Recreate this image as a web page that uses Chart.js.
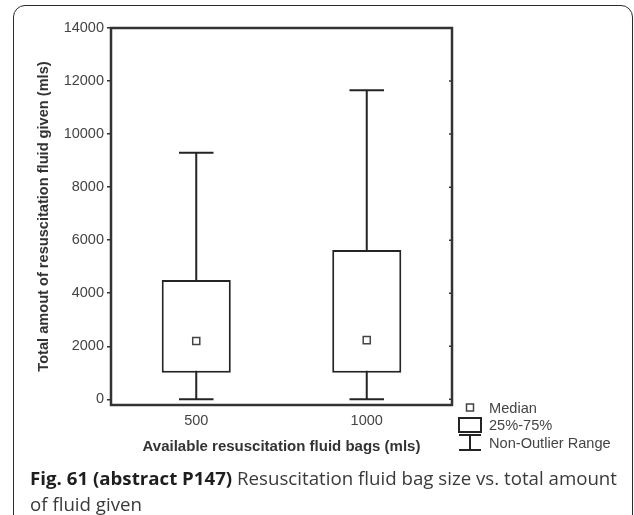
<!DOCTYPE html>
<html><head><meta charset="utf-8">
<script src="https://cdn.jsdelivr.net/npm/chart.js@4/dist/chart.umd.min.js"></script>
<style>
html,body{margin:0;padding:0;background:#fff;}
#wrap{position:relative;width:634px;height:515px;overflow:hidden;}
#c{position:absolute;left:0;top:0;}
#frame{position:absolute;left:13px;top:5px;width:620px;height:540px;border:1.5px solid #2a2a2a;border-radius:12px;box-sizing:border-box;pointer-events:none;}
.cap{position:absolute;left:30px;font-family:"Open Sans";font-size:18px;line-height:24px;color:#3a3a3a;white-space:nowrap;transform-origin:0 0;}
.cap b{color:#1e1e1e;font-weight:700;}
</style></head><body>
<div id="wrap">
<canvas id="c" width="634" height="515"></canvas>
<div id="frame"></div>
<div class="cap" id="cap1" style="top:466px"><b>Fig. 61 (abstract P147)</b> Resuscitation fluid bag size vs. total amount</div>
<div class="cap" id="cap2" style="top:492px">of fluid given</div>
</div>
<script>
// ---- data ----
const categories = ['500', '1000'];
const q1 = [1000, 1000];
const q3 = [4500, 5630];
const medians = [2200, 2230];
const whiskerLow = [0, 0];
const whiskerHigh = [9300, 11650];
const yTicks = [0, 2000, 4000, 6000, 8000, 10000, 12000, 14000];
const legendLabels = ['Median', '25%-75%', 'Non-Outlier Range'];

// ---- caption fit ----
(function(){
  const c1 = document.getElementById('cap1'), c2 = document.getElementById('cap2');
  const w = c1.getBoundingClientRect().width;
  const s = (617 - 30) / w;
  c1.style.transform = 'scaleX(' + s + ')';
  c2.style.transform = 'scaleX(' + s + ')';
})();

const LINE = '#242424';
const BOX_DS = 1;

const whiskerPlugin = {
  id: 'whiskers',
  beforeDatasetsDraw(chart) {
    const ctx = chart.ctx, x = chart.scales.x, y = chart.scales.y;
    const meta = chart.getDatasetMeta(BOX_DS);
    ctx.save();
    ctx.strokeStyle = LINE; ctx.lineWidth = 2;
    categories.forEach((c, i) => {
      const cx = x.getPixelForValue(i);
      const half = meta.data[i].width / 4;
      const yl = y.getPixelForValue(whiskerLow[i]);
      const yh = y.getPixelForValue(whiskerHigh[i]);
      ctx.beginPath();
      ctx.moveTo(cx, yl); ctx.lineTo(cx, yh);
      ctx.moveTo(cx - half, yl); ctx.lineTo(cx + half, yl);
      ctx.moveTo(cx - half, yh); ctx.lineTo(cx + half, yh);
      ctx.stroke();
    });
    ctx.restore();
  }
};

const framePlugin = {
  id: 'frame',
  afterDraw(chart) {
    const ctx = chart.ctx, a = chart.chartArea, y = chart.scales.y;
    ctx.save();
    ctx.strokeStyle = '#333'; ctx.lineWidth = 2.5;
    ctx.strokeRect(a.left, a.top, a.right - a.left, a.bottom - a.top);
    // inner ticks on right side
    ctx.lineWidth = 1.5;
    ctx.beginPath();
    yTicks.forEach(v => {
      const py = y.getPixelForValue(v);
      ctx.moveTo(a.right - 3, py); ctx.lineTo(a.right, py);
    });
    ctx.stroke();

    // legend
    const lx = a.right + 7, lw = 22, mid = lx + lw / 2, tx = a.right + 37;
    ctx.font = '14.6px "Liberation Sans", Arial, sans-serif';
    ctx.fillStyle = '#444';
    ctx.textBaseline = 'middle';
    ctx.textAlign = 'left';
    // median
    ctx.strokeStyle = '#444'; ctx.lineWidth = 1.5;
    ctx.strokeRect(mid - 3.5, a.bottom - 1, 7, 7);
    ctx.fillText(legendLabels[0], tx, a.bottom + 4);
    // box
    ctx.strokeStyle = LINE; ctx.lineWidth = 2;
    ctx.strokeRect(lx, a.bottom + 13, lw, 14);
    ctx.fillText(legendLabels[1], tx, a.bottom + 21);
    // whisker
    ctx.beginPath();
    ctx.moveTo(lx, a.bottom + 30); ctx.lineTo(lx + lw, a.bottom + 30);
    ctx.moveTo(mid, a.bottom + 30); ctx.lineTo(mid, a.bottom + 45);
    ctx.moveTo(lx, a.bottom + 45); ctx.lineTo(lx + lw, a.bottom + 45);
    ctx.stroke();
    ctx.fillText(legendLabels[2], tx, a.bottom + 39);
    ctx.restore();
  }
};

new Chart(document.getElementById('c'), {
  type: 'bar',
  data: {
    labels: categories,
    datasets: [
      {
        type: 'line',
        data: medians,
        showLine: false,
        pointStyle: 'rect',
        pointRadius: 5,
        pointBackgroundColor: '#fff',
        pointBorderColor: '#444',
        pointBorderWidth: 1.5,
        order: 0
      },
      {
        type: 'bar',
        data: categories.map((c, i) => [q1[i], q3[i]]),
        backgroundColor: '#fff',
        borderColor: LINE,
        borderWidth: 2,
        borderSkipped: false,
        barPercentage: 0.405,
        categoryPercentage: 1,
        order: 1
      }
    ]
  },
  options: {
    responsive: false,
    animation: false,
    devicePixelRatio: 1,
    layout: { padding: { left: 0, top: 28, right: 182, bottom: 0 } },
    plugins: { legend: { display: false }, tooltip: { enabled: false } },
    scales: {
      x: {
        offset: true,
        afterFit: s => { s.height = 110; },
        grid: { display: false },
        border: { display: false },
        ticks: { font: { family: 'Liberation Sans', size: 14.5 }, color: '#444', padding: -1 },
        title: { display: true, text: 'Available resuscitation fluid bags (mls)', color: '#333',
                 font: { family: 'Liberation Sans', size: 15, weight: 'bold' }, padding: { top: 0, bottom: 59 } }
      },
      y: {
        min: -215, max: 14000,
        afterBuildTicks: s => { s.ticks = yTicks.map(v => ({ value: v })); },
        afterFit: s => { s.width = 111; },
        grid: { drawOnChartArea: false, drawTicks: true, tickLength: 4, color: '#333', lineWidth: 1.5 },
        border: { display: false },
        ticks: { font: { family: 'Liberation Sans', size: 14.5 }, color: '#444', padding: 3,
                 callback: v => String(v) },
        title: { display: true, text: 'Total amout of resuscitation fluid given (mls)', color: '#333',
                 font: { family: 'Liberation Sans', size: 14.6, weight: 'bold' }, padding: { top: 35, bottom: 0 } }
      }
    }
  },
  plugins: [whiskerPlugin, framePlugin]
});
</script>
</body></html>
